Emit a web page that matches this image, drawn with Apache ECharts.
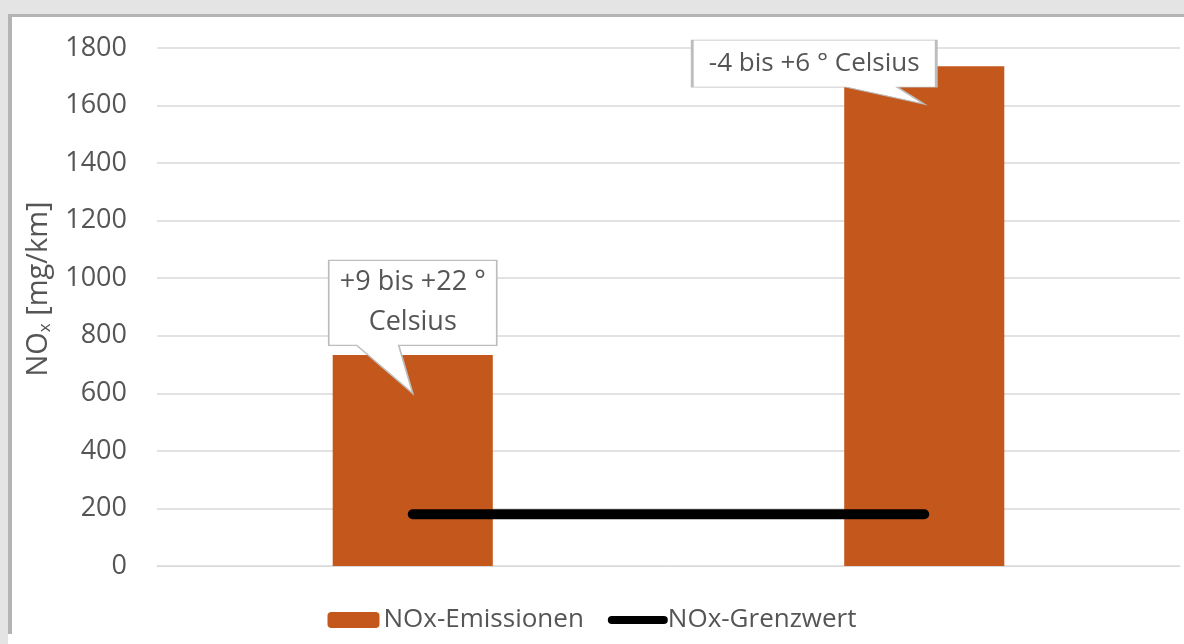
<!DOCTYPE html>
<html>
<head>
<meta charset="utf-8">
<script src="https://cdn.jsdelivr.net/npm/echarts@6/dist/echarts.min.js"></script>
<style>
  html, body { margin: 0; padding: 0; background: #fff; }
  #nox_chart { width: 1184px; height: 644px; }
</style>
</head>
<body>
<div id="nox_chart"></div>
<script>
var categories = ['+9 bis +22 ° Celsius', '-4 bis +6 ° Celsius'];
var emissionen = [733, 1737];
var grenzwert = [180, 180];
var yTicks = [0, 200, 400, 600, 800, 1000, 1200, 1400, 1600, 1800];
var callouts = ['+9 bis +22 °\nCelsius', '-4 bis +6 ° Celsius'];
var calloutTips = [600, 1605];

var txt = '#555555';
var font = 'Open Sans';

var myChart = echarts.init(document.getElementById('nox_chart'));
myChart.setOption({
    backgroundColor: '#fff',
    textStyle: { fontFamily: font },
    graphic: [
        { type: 'rect', shape: { x: 0, y: 0, width: 1184, height: 14 }, style: { fill: '#e4e4e4' }, silent: true },
        { type: 'rect', shape: { x: 0, y: 14, width: 1184, height: 3 }, style: { fill: '#b4b4b4' }, silent: true },
        { type: 'rect', shape: { x: 0, y: 0, width: 8, height: 644 }, style: { fill: '#e4e4e4' }, silent: true },
        { type: 'rect', shape: { x: 8, y: 14, width: 4, height: 620 }, style: { fill: '#b4b4b4' }, silent: true }
    ],
    grid: { left: 157, right: 4, top: 48, bottom: 78 },
    legend: {
        bottom: 6,
        left: 'center',
        itemWidth: 52,
        itemHeight: 16,
        itemGap: 24,
        textStyle: { color: txt, fontSize: 26, fontFamily: font, padding: [0, 0, 0, -1] },
        data: [
            { name: 'NOx-Emissionen' },
            { name: 'NOx-Grenzwert', itemStyle: { opacity: 0 }, lineStyle: { color: '#000', width: 8, cap: 'round' } }
        ]
    },
    xAxis: [{
        type: 'category',
        data: categories,
        boundaryGap: true,
        axisLine: { show: true, lineStyle: { color: '#d9d9d9', width: 1 } },
        axisTick: { show: false },
        axisLabel: { show: false }
    }],
    yAxis: [{
        type: 'value',
        min: yTicks[0],
        max: yTicks[yTicks.length - 1],
        interval: 200,
        name: '{a|NO}{s|x}{a| [mg/km]}',
        nameLocation: 'middle',
        nameGap: 103,
        nameRotate: 90,
        nameTextStyle: {
            padding: [0, 0, 0, 36],
            rich: {
                a: { fontSize: 29, color: txt, fontFamily: font },
                s: { fontSize: 17, color: txt, fontFamily: font, padding: [14, 0, 0, 0] }
            }
        },
        axisLine: { show: false },
        axisTick: { show: false },
        axisLabel: {
            color: txt, fontSize: 27, fontFamily: font, margin: 30,
            formatter: function (v) { return String(v); }
        },
        splitLine: { lineStyle: { color: '#d9d9d9', width: 1.5 } }
    }],
    series: [
        {
            name: 'NOx-Emissionen',
            type: 'bar',
            barWidth: '31.3%',
            itemStyle: { color: '#c4581c' },
            data: emissionen,
            z: 2,
            markPoint: {
                z: 5,
                silent: true,
                data: [
                    {
                        coord: [0, calloutTips[0]],
                        symbol: 'path://M0 0 H168 V85 H70 L84 133 L28 85 H0 Z',
                        symbolSize: [168, 133],
                        symbolKeepAspect: false,
                        symbolOffset: [0, -66.5],
                        itemStyle: { color: '#fff', borderColor: '#bdbdbd', borderWidth: 1.5 },
                        label: {
                            show: true, position: 'inside', offset: [0, -25],
                            formatter: callouts[0], color: txt, fontSize: 27, lineHeight: 40, fontFamily: font
                        }
                    },
                    {
                        coord: [1, calloutTips[1]],
                        symbol: 'path://M0 0 H244 V47 H205 L232 64 L154 47 H0 Z',
                        symbolSize: [244, 64],
                        symbolKeepAspect: false,
                        symbolOffset: [-110, -32],
                        itemStyle: { color: '#fff', borderColor: '#bdbdbd', borderWidth: 1.5 },
                        label: {
                            show: true, position: 'inside', offset: [0, -8.5],
                            formatter: callouts[1], color: txt, fontSize: 26, fontFamily: font
                        }
                    }
                ]
            }
        },
        {
            name: 'NOx-Grenzwert',
            type: 'line',
            data: grenzwert,
            symbol: 'none',
            z: 3,
            lineStyle: { color: '#000', width: 10, cap: 'round' },
            itemStyle: { color: '#000' }
        }
    ]
});
</script>
</body>
</html>
